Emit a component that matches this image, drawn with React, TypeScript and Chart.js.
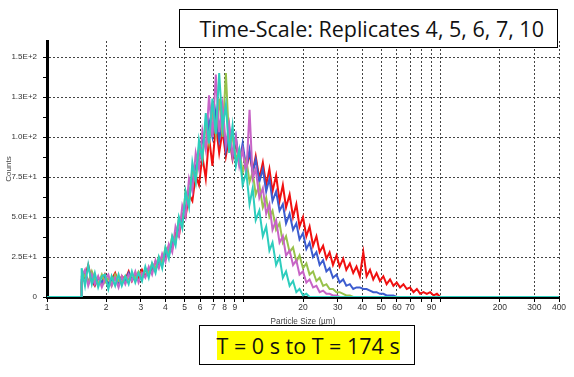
import React, { useEffect, useRef } from 'react';
import { Chart, registerables } from 'chart.js';

Chart.register(...registerables);

// Particle size channels (µm)
const sizes = [
  1.50, 1.56, 1.62, 1.69, 1.75, 1.82, 1.90, 1.97, 2.05, 2.13,
  2.22, 2.31, 2.40, 2.50, 2.60, 2.70, 2.81, 2.92, 3.04, 3.16,
  3.29, 3.42, 3.56, 3.70, 3.85, 4.00, 4.16, 4.33, 4.50, 4.68,
  4.87, 5.06, 5.27, 5.48, 5.70, 5.92, 6.16, 6.41, 6.66, 6.93,
  7.21, 7.50, 7.80, 8.11, 8.43, 8.77, 9.12, 9.49, 9.87, 10.3,
  10.7, 11.1, 11.5, 12.0, 12.5, 13.0, 13.5, 14.0, 14.6, 15.2,
  15.8, 16.4, 17.1, 17.8, 18.5, 19.2, 20.0, 20.8, 21.6, 22.5,
  23.4, 24.3, 25.3, 26.3, 27.3, 28.4, 29.6, 30.7, 32.0, 33.2,
  34.6, 36.0, 37.4, 38.9, 40.5, 42.1, 43.8, 45.5, 47.3, 49.2,
  51.2, 53.2, 55.4, 57.6, 59.9, 62.3, 64.8, 67.4, 70.0, 72.9,
  75.8, 78.8, 81.9, 85.2, 88.6, 92.2, 95.9, 99.7,
];

const countsTeal = [
  18, 7, 20, 8, 15, 6, 13, 14, 5, 13,
  7, 14, 7, 13, 8, 16, 9, 15, 10, 19,
  12, 21, 15, 25, 18, 31, 24, 38, 32, 50,
  43, 66, 56, 84, 72, 98, 86, 115, 96, 124,
  102, 140, 106, 120, 90, 107, 82, 92, 70, 78,
  58, 68, 48, 54, 38, 44, 29, 34, 20, 25,
  12, 16, 7, 10, 3, 5, 1, 2, 0, 0,
  0, 0, 0, 0, 0, 0, 0, 0, 0, 0,
  0, 0, 0, 0, 0, 0, 0, 0, 0, 0,
  0, 0, 0, 0, 0, 0, 0, 0, 0, 0,
  0, 0, 0, 0, 0, 0, 0, 0,
];

const countsMagenta = [
  13, 17, 7, 14, 8, 13, 6, 11, 14, 7,
  12, 6, 13, 8, 14, 10, 16, 9, 15, 12,
  19, 14, 23, 18, 27, 22, 33, 28, 44, 38,
  57, 50, 74, 66, 90, 80, 104, 92, 126, 100,
  139, 103, 120, 95, 108, 88, 100, 82, 92, 76,
  117, 74, 80, 62, 68, 52, 58, 42, 48, 34,
  38, 26, 29, 20, 23, 14, 16, 9, 11, 6,
  7, 3, 4, 2, 2, 1, 1, 0, 0, 0,
  0, 0, 0, 0, 0, 0, 0, 0, 0, 0,
  0, 0, 0, 0, 0, 0, 0, 0, 0, 0,
  0, 0, 0, 0, 0, 0, 0, 0,
];

const countsGreen = [
  10, 14, 9, 16, 11, 8, 14, 9, 12, 7,
  14, 10, 9, 13, 11, 14, 12, 16, 13, 17,
  15, 21, 18, 25, 21, 31, 27, 38, 34, 49,
  44, 66, 60, 80, 72, 94, 86, 108, 96, 116,
  102, 124, 100, 140, 96, 100, 86, 92, 78, 86,
  72, 78, 64, 70, 56, 62, 50, 54, 42, 46,
  34, 38, 28, 31, 22, 26, 18, 21, 14, 16,
  10, 12, 7, 8, 5, 5, 3, 3, 2, 1,
  1, 0, 0, 0, 0, 0, 0, 0, 0, 0,
  0, 0, 0, 0, 0, 0, 0, 0, 0, 0,
  0, 0, 0, 0, 0, 0, 0, 0,
];

const countsBlue = [
  11, 15, 10, 13, 8, 12, 9, 13, 8, 11,
  13, 8, 12, 10, 15, 11, 13, 15, 12, 17,
  14, 19, 17, 23, 20, 28, 26, 34, 36, 42,
  50, 56, 66, 72, 82, 86, 98, 94, 110, 100,
  116, 98, 112, 92, 106, 88, 100, 84, 96, 80,
  92, 78, 86, 72, 80, 66, 74, 60, 66, 54,
  58, 46, 52, 42, 46, 36, 40, 30, 34, 25,
  28, 20, 23, 16, 18, 12, 14, 9, 11, 7,
  8, 5, 6, 6, 5, 5, 4, 3, 3, 2,
  2, 1, 1, 1, 0, 0, 0, 0, 0, 0,
  0, 0, 0, 0, 0, 0, 0, 0,
];

const countsRed = [
  9, 13, 20, 10, 7, 12, 9, 14, 8, 11,
  15, 9, 13, 11, 16, 10, 14, 12, 17, 13,
  18, 16, 22, 19, 26, 24, 32, 30, 40, 38,
  52, 50, 64, 60, 76, 70, 88, 74, 100, 82,
  108, 90, 104, 88, 100, 86, 96, 84, 92, 80,
  90, 78, 88, 74, 84, 70, 80, 66, 76, 60,
  70, 56, 64, 50, 58, 44, 50, 38, 44, 32,
  38, 28, 32, 24, 28, 20, 26, 19, 24, 17,
  21, 15, 19, 13, 28, 13, 17, 11, 15, 10,
  13, 8, 11, 7, 9, 6, 8, 5, 6, 3,
  5, 2, 3, 2, 3, 1, 2, 0,
];

const seriesNames = ['Replicate 10', 'Replicate 7', 'Replicate 6', 'Replicate 5', 'Replicate 4'];
const seriesValues = [countsTeal, countsMagenta, countsGreen, countsBlue, countsRed];
const seriesColors = ['#2dcdbd', '#c764c6', '#98c24c', '#3c5ccf', '#f01010'];

const xRange = [1, 400];
const xGridValues = [1, 2, 3, 4, 5, 6, 7, 8, 9, 10, 20, 30, 40, 50, 60, 70, 80, 90, 100, 200, 300, 400];
const xTickLabels = [1, 2, 3, 4, 5, 6, 7, 8, 9, 20, 30, 40, 50, 60, 70, 90, 200, 300, 400];
const yTickValues = [0, 12.5, 25, 37.5, 50, 62.5, 75, 87.5, 100, 112.5, 125, 137.5, 150];
const yLabelValues = [0, 25, 50, 75, 100, 125, 150];
const yLabelTexts = ['0', '2.5E+1', '5.0E+1', '7.5E+1', '1.0E+2', '1.3E+2', '1.5E+2'];

const titleText = 'Time-Scale: Replicates 4, 5, 6, 7, 10';
const rangeText = 'T = 0 s to T = 174 s';

const FONT = '"Liberation Sans", Arial, sans-serif';
const BIG_FONT = '"Open Sans", "Noto Sans", sans-serif';
const CLEAR = 'rgba(0,0,0,0)';

export default function App() {
  const ref = useRef<HTMLCanvasElement | null>(null);

  useEffect(() => {
    const canvas = ref.current;
    if (!canvas) return;
    const datasets = seriesValues.map((vals, k) => ({
      label: seriesNames[k],
      data: [
        { x: xRange[0], y: 0 },
        { x: sizes[0], y: 0 },
        ...sizes.map((s, i) => ({ x: s, y: vals[i] })),
        { x: xRange[1], y: 0 },
      ],
      borderColor: seriesColors[k],
      backgroundColor: seriesColors[k],
      borderWidth: 2,
      pointRadius: 0,
      tension: 0,
      fill: false,
    }));

    const chart = new Chart(canvas, {
      type: 'line',
      data: { datasets },
      options: {
        animation: false,
        responsive: false,
        maintainAspectRatio: false,
        layout: { padding: { top: 41, right: 15, left: 0, bottom: 45 } },
        plugins: {
          legend: { display: false },
          tooltip: { enabled: false },
        },
        scales: {
          x: {
            type: 'logarithmic',
            min: xRange[0],
            max: xRange[1],
            afterBuildTicks: (s: any) => {
              s.ticks = xGridValues.map((v) => ({ value: v }));
            },
            afterFit: (s: any) => {
              s.height = 35;
            },
            grid: {
              color: (c: any) => (c.tick && c.tick.value === 1 ? CLEAR : '#444'),
              lineWidth: 1,
              tickColor: '#000',
              tickLength: 5,
            },
            border: { display: true, color: '#000', width: 3, dash: [2, 2] },
            ticks: {
              autoSkip: false,
              maxRotation: 0,
              minRotation: 0,
              padding: 1,
              color: '#333',
              font: { family: FONT, size: 8.5 },
              callback: (v: any) => (xTickLabels.includes(Number(v)) ? String(v) : ''),
            },
            title: {
              display: true,
              text: 'Particle Size (µm)',
              color: '#444',
              font: { family: FONT, size: 8.2 },
              padding: { top: 0, bottom: 5 },
            },
          },
          y: {
            type: 'linear',
            min: 0,
            max: 160,
            afterBuildTicks: (s: any) => {
              s.ticks = yTickValues.map((v) => ({ value: v }));
            },
            afterFit: (s: any) => {
              s.width = 47;
            },
            grid: {
              color: (c: any) =>
                c.tick && c.tick.value > 0 && yLabelValues.includes(c.tick.value) ? '#444' : CLEAR,
              lineWidth: 1,
              tickColor: '#000',
              tickLength: 4,
            },
            border: { display: true, color: '#000', width: 3, dash: [2, 2] },
            ticks: {
              autoSkip: false,
              padding: 6,
              color: '#333',
              font: { family: FONT, size: 8 },
              callback: (v: any) => {
                const idx = yLabelValues.indexOf(Number(v));
                return idx >= 0 ? yLabelTexts[idx] : '';
              },
            },
            title: {
              display: true,
              text: 'Counts',
              color: '#444',
              font: { family: FONT, size: 8 },
              padding: { top: 3.5, bottom: 0 },
            },
          },
        },
      },
    } as any);

    return () => chart.destroy();
  }, []);

  return (
    <div
      style={{
        position: 'fixed',
        left: 0,
        top: 0,
        width: 574,
        height: 377,
        background: '#fff',
        overflow: 'hidden',
      }}
    >
      <canvas
        ref={ref}
        width={574}
        height={377}
        style={{ position: 'absolute', left: 0, top: 0, width: 574, height: 377, display: 'block' }}
      />
      <div
        style={{
          position: 'absolute',
          left: 179,
          top: 9,
          width: 379,
          height: 39,
          boxSizing: 'border-box',
          border: '1.5px solid #000',
          background: '#fff',
          display: 'flex',
          alignItems: 'center',
          paddingLeft: 19.5,
          fontFamily: BIG_FONT,
          fontSize: 21.5,
          color: '#111',
          whiteSpace: 'nowrap',
        }}
      >
        {titleText}
      </div>
      <div
        style={{
          position: 'absolute',
          left: 199,
          top: 325,
          width: 216,
          height: 40,
          boxSizing: 'border-box',
          border: '1.5px solid #000',
          background: '#fff',
          display: 'flex',
          alignItems: 'center',
          paddingLeft: 16.5,
          fontFamily: BIG_FONT,
          fontSize: 21.5,
          color: '#111',
          whiteSpace: 'nowrap',
        }}
      >
        <span style={{ background: '#ffff00' }}>{rangeText}</span>
      </div>
    </div>
  );
}
